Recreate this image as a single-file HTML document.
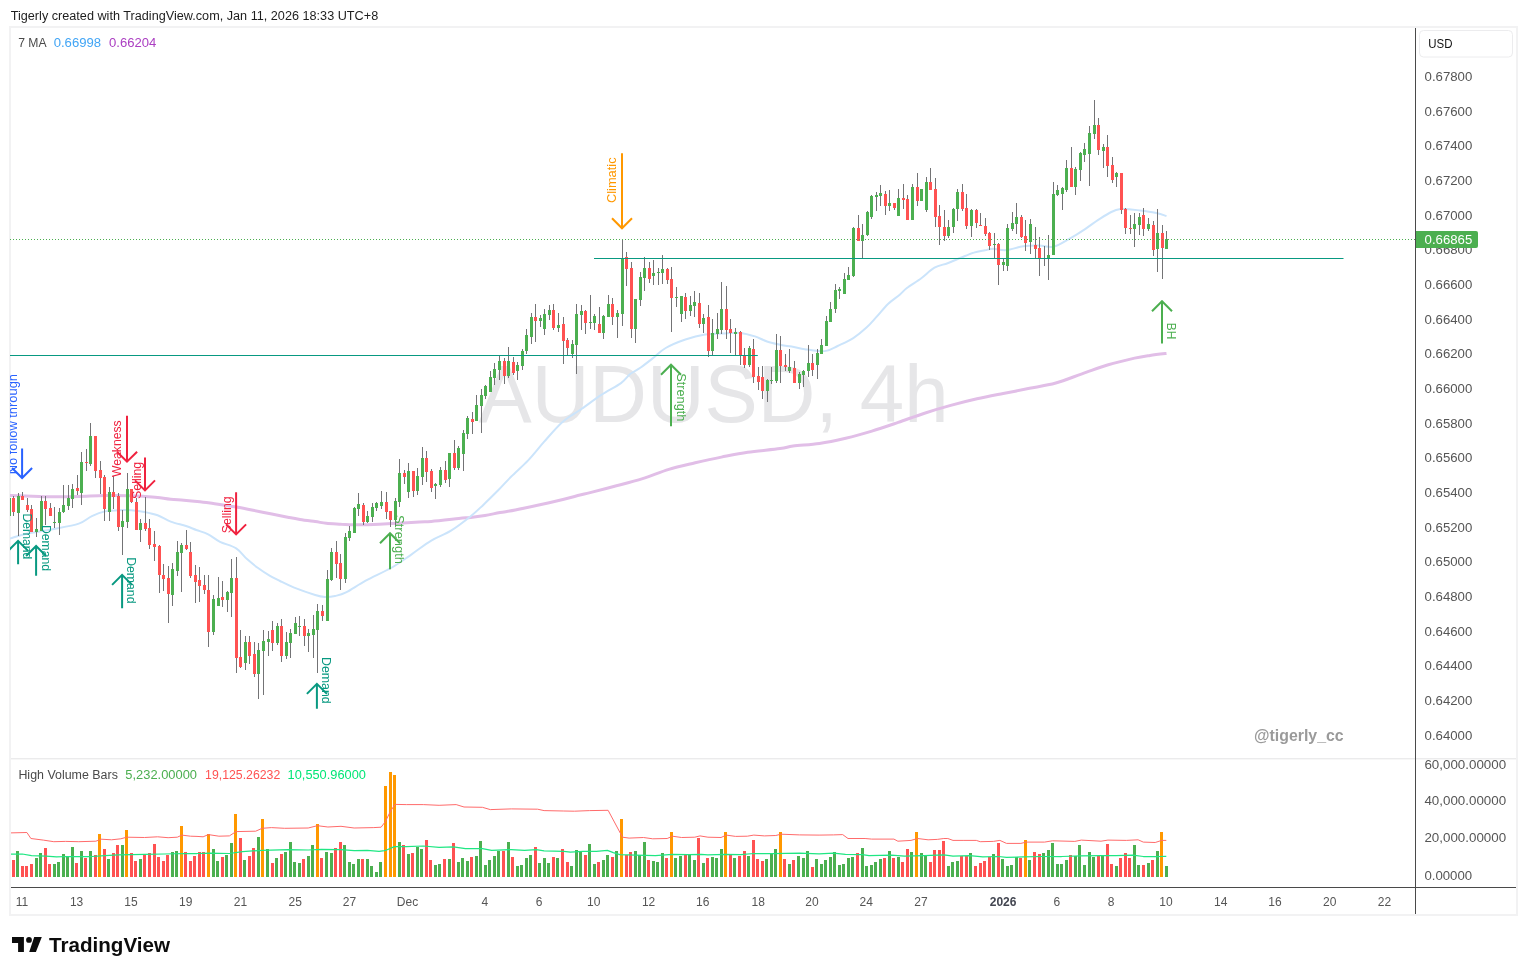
<!DOCTYPE html>
<html lang="en"><head><meta charset="utf-8"><title>AUDUSD 4h chart</title><style>html,body{margin:0;padding:0;background:#fff}svg{display:block}</style></head><body>
<svg width="1527" height="975" viewBox="0 0 1527 975" font-family='"Liberation Sans", sans-serif' font-size="12">
<rect width="1527" height="975" fill="#fff"/>
<rect x="10" y="27" width="1507" height="888" fill="none" stroke="#f2f2f3" stroke-width="2"/>
<defs><clipPath id="pm"><rect x="10" y="28" width="1405" height="730"/></clipPath><clipPath id="pv"><rect x="11" y="759" width="1404" height="128"/></clipPath></defs>
<text x="10.7" y="19.7" fill="#1e1e1e" textLength="367.5" lengthAdjust="spacingAndGlyphs">Tigerly created with TradingView.com, Jan 11, 2026 18:33 UTC+8</text>
<g clip-path="url(#pm)">
<text x="478.5" y="422.3" font-size="82" fill="#e6e6e8" textLength="470" lengthAdjust="spacingAndGlyphs">AUDUSD, 4h</text>
<path d="M4 495.3C5.1 495.3 4.6 495.2 10.5 495.4C16.4 495.6 32.4 496.3 39.4 496.5C46.4 496.7 45.9 496.8 52.5 496.8C59.1 496.8 70 496.6 78.8 496.4C87.5 496.2 96.2 495.7 105 495.6C113.8 495.5 124.7 495.7 131.3 495.8C137.9 495.9 140.1 496.1 144.5 496.4C148.9 496.7 153.2 497 157.6 497.5C162 498 166.3 498.9 170.7 499.3C175.1 499.8 178.9 499.8 183.8 500.2C188.7 500.6 195.6 501.3 200 501.8C204.4 502.3 204 502.1 210.1 503C216.2 503.9 227.7 505.5 236.4 507C245.2 508.5 253.9 510.5 262.6 512.2C271.4 514 282.7 516.3 288.9 517.5C295.1 518.7 295.6 518.8 300 519.5C304.4 520.2 310.8 521 315.2 521.6C319.6 522.2 321.9 522.8 326.3 523.3C330.7 523.8 337 524 341.4 524.3C345.8 524.5 348.1 524.7 352.5 524.8C356.9 524.9 361.1 524.9 367.7 524.7C374.3 524.5 383.3 524.1 391.9 523.6C400.5 523.1 412.8 522.4 419.4 522C426 521.6 424.7 522 431.3 521.4C437.9 520.8 452.2 519.2 458.8 518.5C465.4 517.8 466.3 517.9 470.7 517.4C475.1 516.9 480.1 516.2 485 515.4C489.9 514.6 494.9 513.5 500 512.6C505.1 511.7 509 511.2 515.3 510C521.6 508.8 529.5 507.1 537.6 505.3C545.7 503.5 556.8 500.9 563.9 499.2C571 497.5 575.6 496.1 580 495C584.4 493.9 584 494.1 590.1 492.6C596.2 491.1 607.6 488.1 616.4 485.8C625.1 483.5 633.9 481.3 642.6 478.6C651.4 475.9 660.1 472 668.9 469.4C677.7 466.8 686.5 464.9 695.2 462.8C704 460.8 712.6 458.9 721.4 457.1C730.1 455.4 737.9 453.7 747.7 452.3C757.5 450.9 772.4 449.7 780 448.6C787.6 447.6 786.5 446.9 793.1 446C799.7 445.1 810.6 444.7 819.4 443.4C828.2 442.1 837 440.2 845.7 438.2C854.5 436.1 863.1 433.7 871.9 431.1C880.6 428.5 889.4 425.4 898.2 422.4C907 419.4 915.8 416 924.5 413.2C933.2 410.4 942 407.8 950.7 405.4C959.5 403 968.2 400.8 977 398.8C985.8 396.8 994.5 395.2 1003.2 393.5C1012 391.8 1020.7 390.1 1029.5 388.3C1038.3 386.6 1047 385.4 1055.8 383C1064.5 380.6 1073.2 376.9 1082 373.8C1090.8 370.8 1099.5 367.3 1108.3 364.7C1117.1 362.1 1127.6 359.7 1134.6 358.1C1141.5 356.6 1144.7 356.2 1150 355.4C1155.3 354.6 1163.8 353.7 1166.5 353.4" fill="none" stroke="#e1bee7" stroke-width="3" stroke-linejoin="round"/>
<path d="M4 540.5C5.1 540.1 6.8 539.5 10.5 538.4C14.2 537.3 19.3 535.3 26.3 533.8C33.3 532.3 43.8 530.9 52.5 529.2C61.2 527.5 72.2 525.8 78.8 523.6C85.4 521.4 87.5 518.1 91.9 516.1C96.3 514.1 100.7 512.4 105 511.4C109.3 510.4 113.6 510.5 118 510.3C122.4 510.1 126.9 509.9 131.3 510.2C135.7 510.5 140.1 511 144.5 511.9C148.9 512.8 153.2 513.7 157.6 515.3C162 516.9 166 519.8 170.7 521.6C175.4 523.4 181.7 524.6 186 526C190.3 527.4 192.6 528.6 196.3 530C200 531.4 204.2 532.3 208.2 534.3C212.1 536.3 215.3 539.5 220 541.8C224.7 544.1 231.7 545.4 236.2 548.3C240.7 551.2 243.4 555.9 247 559.1C250.6 562.3 253.9 564.9 257.7 567.7C261.5 570.5 266.3 573.6 270 575.8C273.7 578 276 579 280 581C284 583 288.3 585.3 294.2 587.6C300.1 589.9 310.1 593.4 315.2 595C320.3 596.6 321.7 596.8 325 597C328.3 597.2 331.5 596.8 335 596C338.5 595.2 340.9 595 346 592.4C351.1 589.8 358.1 584.8 365.7 580.6C373.3 576.5 384.2 571.9 391.9 567.5C399.5 563.1 405 558.8 411.6 554.3C418.2 549.8 424.7 544.5 431.3 540.6C437.9 536.7 444.4 534.8 451 530.7C457.6 526.7 465.2 520.7 470.7 516.3C476.2 511.9 479.2 508.7 483.8 504.4C488.4 500.1 493.6 494.9 498.2 490.3C502.8 485.7 506.3 481.5 511.3 476.5C516.3 471.5 522.9 465.9 528.4 460.1C533.9 454.3 538.5 448.1 544.2 441.7C549.9 435.3 556.5 427.3 562.5 422C568.5 416.7 573.5 414.5 580 410C586.5 405.5 594.5 399.4 601.3 394.9C608.1 390.4 616.2 386.6 621 383.1C625.8 379.6 626.9 376.6 630.2 374C633.5 371.4 636.8 370.2 640.7 367.5C644.6 364.8 649.6 360.8 653.8 357.5C658 354.2 660.4 351 665.7 348C671 345 678.9 341.7 685.4 339.5C691.9 337.3 698.4 335.6 705 334.6C711.6 333.6 719.1 333.7 725 333.4C730.9 333.1 735.5 332.4 740.5 332.9C745.5 333.4 750.6 335 755 336.4C759.4 337.8 762.7 340.1 767 341.5C771.3 342.9 776.9 344.1 781 345C785.1 345.9 787.6 345.9 791.6 346.6C795.6 347.3 800.4 348.5 804.8 349.2C809.2 349.9 814.2 350.8 817.9 351C821.6 351.2 823.8 351.4 827.1 350.6C830.4 349.8 833.2 348.1 837.6 346C842 343.9 848.5 341.2 853.3 338.1C858.1 335 862.5 331.3 866.5 327.6C870.5 323.9 873.6 320 877.2 316.1C880.8 312.2 884.2 307.6 888 304C891.8 300.4 896.9 297.2 900 294.5C903.1 291.8 903.4 290.7 906.9 288C910.4 285.3 916.7 281.6 921.3 278.2C925.9 274.8 930.1 270.2 934.5 267.7C938.9 265.2 943.2 264.8 947.6 263.2C952 261.6 956.3 259.6 960.7 257.8C965.1 256 969.8 253.8 973.8 252.6C977.8 251.3 981.8 250.9 985 250.3C988.2 249.7 989.6 248.8 993.1 248.8C996.6 248.8 1001.3 250.5 1006.3 250.1C1011.3 249.7 1017.8 247 1023.3 246.2C1028.8 245.4 1034.1 245.4 1039.1 245.5C1044.1 245.6 1048.5 247.9 1053.5 246.8C1058.5 245.7 1064 241.9 1069.3 238.9C1074.6 235.9 1080.3 232.3 1085.1 229.1C1089.9 225.9 1093.8 222.8 1098.2 219.9C1102.6 217.1 1107.6 213.8 1111.3 212C1115 210.2 1117.2 209.5 1120.5 209.1C1123.8 208.7 1127.1 209.1 1131 209.4C1134.9 209.7 1139.7 210.3 1144.1 211C1148.5 211.7 1153.6 212.5 1157.3 213.3C1161 214.1 1165 215.6 1166.5 216" fill="none" stroke="#cbe4fb" stroke-width="2" stroke-linejoin="round"/>
<path d="M13.5 496V516M18.5 493V536M22.5 492V500M27.5 498V512M31.5 505V532M36.5 518V537M41.5 496V531M45.5 496V525M50.5 503V516M54.5 507V528M59.5 508V535M63.5 485V513M68.5 485V510M72.5 484V508M77.5 475V495M81.5 452V505M86.5 449V471M90.5 423V466M95.5 436V478M100.5 461V494M104.5 475V521M109.5 487V521M113.5 476V509M118.5 493V531M122.5 510V555M127.5 473V528M131.5 489V503M136.5 498V530M140.5 519V542M145.5 497V531M149.5 519V549M154.5 531V561M159.5 545V593M163.5 564V591M168.5 566V623M172.5 563V606M177.5 541V576M181.5 543V592M186.5 530V550M190.5 542V578M195.5 565V603M199.5 567V602M204.5 575V594M208.5 575V647M213.5 595V635M218.5 577V606M222.5 581V607M227.5 591V612M231.5 559V617M236.5 557V673M240.5 630V668M245.5 636V670M249.5 636V664M254.5 642V677M258.5 643V699M263.5 630V695M268.5 631V656M272.5 621V651M277.5 623V645M281.5 619V662M286.5 632V659M290.5 629V658M295.5 617V634M299.5 616V636M304.5 619V646M308.5 629V652M313.5 615V658M317.5 604V673M322.5 605V621M327.5 570V621M331.5 548V581M336.5 541V578M340.5 554V590M345.5 533V583M349.5 526V541M354.5 507V533M358.5 493V516M363.5 503V525M367.5 511V523M372.5 503V522M376.5 502V511M381.5 491V509M386.5 492V519M390.5 511V527M395.5 498V526M399.5 459V507M404.5 470V484M408.5 463V498M413.5 471V497M417.5 468V495M422.5 447V485M426.5 451V482M431.5 469V492M435.5 483V499M440.5 467V487M445.5 461V483M449.5 453V487M454.5 440V470M458.5 446V470M463.5 430V471M467.5 416V439M472.5 412V434M476.5 395V421M481.5 389V433M485.5 385V399M490.5 371V392M494.5 363V385M499.5 355V380M504.5 358V384M508.5 347V378M513.5 357V375M517.5 362V380M522.5 349V370M526.5 329V354M531.5 313V344M535.5 304V342M540.5 315V327M544.5 309V335M549.5 305V320M553.5 304V330M558.5 313V332M563.5 317V364M567.5 338V355M572.5 340V358M576.5 304V374M581.5 305V330M585.5 310V334M590.5 295V329M594.5 314V330M599.5 307V333M603.5 315V339M608.5 295V317M612.5 298V325M617.5 310V338M622.5 239V326M626.5 252V286M631.5 262V338M635.5 299V343M640.5 272V306M644.5 257V291M649.5 262V283M653.5 260V285M658.5 268V285M662.5 255V284M667.5 268V284M671.5 267V332M676.5 287V307M681.5 296V322M685.5 293V319M690.5 296V316M694.5 291V317M699.5 293V328M703.5 314V333M708.5 305V357M712.5 319V355M717.5 313V339M721.5 282V334M726.5 286V339M730.5 319V353M735.5 328V355M740.5 331V365M744.5 348V368M749.5 346V367M753.5 339V383M758.5 367V390M762.5 366V399M767.5 379V402M771.5 367V384M776.5 334V383M780.5 336V383M785.5 354V371M789.5 349V373M794.5 361V383M799.5 372V389M803.5 370V387M808.5 345V377M812.5 354V376M817.5 349V379M821.5 339V354M826.5 316V346M830.5 302V322M835.5 284V313M839.5 287V299M844.5 273V294M848.5 267V280M853.5 227V277M858.5 215V241M862.5 224V258M867.5 211V236M871.5 195V219M876.5 192V211M880.5 185V206M885.5 191V215M889.5 190V211M894.5 203V210M898.5 189V216M903.5 184V209M907.5 195V220M912.5 184V220M917.5 173V206M921.5 189V201M926.5 177V212M930.5 168V190M935.5 178V227M939.5 205V245M944.5 210V241M948.5 220V238M953.5 208V233M957.5 189V221M962.5 184V211M966.5 194V229M971.5 209V237M976.5 209V228M980.5 213V226M985.5 218V236M989.5 232V250M994.5 233V258M998.5 243V285M1003.5 259V271M1007.5 224V271M1012.5 212V231M1016.5 203V234M1021.5 215V238M1025.5 220V251M1030.5 219V254M1035.5 227V258M1039.5 237V276M1044.5 246V266M1048.5 235V280M1053.5 182V255M1057.5 185V196M1062.5 187V210M1066.5 160V192M1071.5 147V187M1075.5 167V195M1080.5 152V181M1084.5 143V162M1089.5 126V186M1094.5 100V139M1098.5 118V155M1103.5 144V168M1107.5 135V177M1112.5 157V183M1116.5 172V187M1121.5 173V214M1125.5 208V234M1130.5 215V234M1134.5 213V247M1139.5 213V235M1143.5 208V236M1148.5 218V231M1153.5 221V256M1157.5 209V272M1162.5 225V279M1166.5 231V249" stroke="#737375" stroke-width="1" fill="none" shape-rendering="crispEdges"/>
<path d="M17 496h3v17h-3zM35 529h3v3h-3zM40 501h3v30h-3zM53 522h3v1h-3zM58 512h3v11h-3zM62 505h3v7h-3zM67 498h3v8h-3zM71 489h3v10h-3zM80 462h3v31h-3zM89 436h3v28h-3zM108 492h3v20h-3zM121 521h3v6h-3zM126 489h3v33h-3zM139 523h3v7h-3zM171 569h3v26h-3zM176 552h3v19h-3zM180 545h3v8h-3zM212 599h3v33h-3zM217 598h3v8h-3zM226 592h3v8h-3zM230 578h3v15h-3zM244 642h3v21h-3zM257 650h3v24h-3zM262 641h3v10h-3zM267 639h3v3h-3zM276 626h3v17h-3zM285 642h3v14h-3zM289 633h3v10h-3zM294 623h3v11h-3zM298 626h3v1h-3zM307 633h3v3h-3zM312 629h3v6h-3zM316 611h3v19h-3zM326 579h3v42h-3zM330 552h3v28h-3zM344 537h3v42h-3zM348 531h3v7h-3zM353 508h3v25h-3zM357 504h3v5h-3zM366 516h3v6h-3zM371 507h3v10h-3zM375 503h3v5h-3zM380 502h3v4h-3zM394 501h3v19h-3zM398 473h3v29h-3zM407 471h3v21h-3zM416 476h3v15h-3zM421 458h3v19h-3zM434 484h3v2h-3zM439 470h3v15h-3zM448 453h3v26h-3zM457 448h3v20h-3zM462 433h3v21h-3zM466 418h3v16h-3zM475 405h3v16h-3zM480 395h3v11h-3zM484 386h3v10h-3zM489 377h3v15h-3zM493 369h3v9h-3zM498 361h3v9h-3zM507 361h3v15h-3zM516 365h3v6h-3zM521 351h3v15h-3zM525 335h3v16h-3zM530 317h3v20h-3zM539 318h3v3h-3zM543 314h3v15h-3zM548 310h3v5h-3zM557 325h3v3h-3zM571 344h3v10h-3zM575 314h3v31h-3zM580 311h3v4h-3zM589 322h3v1h-3zM593 316h3v7h-3zM602 316h3v17h-3zM607 304h3v13h-3zM616 313h3v4h-3zM621 258h3v56h-3zM634 299h3v30h-3zM639 277h3v23h-3zM643 268h3v10h-3zM652 273h3v3h-3zM657 272h3v1h-3zM661 269h3v4h-3zM675 297h3v1h-3zM680 296h3v18h-3zM689 305h3v6h-3zM693 302h3v4h-3zM702 318h3v6h-3zM711 333h3v18h-3zM716 329h3v5h-3zM720 309h3v21h-3zM734 332h3v2h-3zM748 348h3v17h-3zM766 380h3v11h-3zM770 380h3v1h-3zM775 350h3v31h-3zM788 367h3v4h-3zM798 374h3v9h-3zM802 371h3v4h-3zM807 363h3v8h-3zM816 353h3v12h-3zM820 345h3v9h-3zM825 321h3v25h-3zM829 309h3v13h-3zM834 290h3v19h-3zM838 289h3v2h-3zM843 279h3v15h-3zM847 275h3v5h-3zM852 228h3v48h-3zM861 235h3v6h-3zM866 212h3v23h-3zM870 196h3v21h-3zM875 195h3v2h-3zM879 193h3v3h-3zM888 203h3v3h-3zM897 198h3v18h-3zM911 187h3v33h-3zM920 189h3v12h-3zM925 182h3v28h-3zM947 227h3v9h-3zM952 209h3v18h-3zM956 192h3v17h-3zM970 210h3v16h-3zM993 244h3v1h-3zM1002 262h3v3h-3zM1006 228h3v38h-3zM1011 223h3v6h-3zM1015 217h3v7h-3zM1029 224h3v18h-3zM1043 258h3v1h-3zM1047 255h3v3h-3zM1052 194h3v61h-3zM1056 190h3v5h-3zM1061 188h3v6h-3zM1065 168h3v22h-3zM1074 169h3v18h-3zM1079 153h3v17h-3zM1083 149h3v6h-3zM1088 133h3v21h-3zM1093 125h3v9h-3zM1102 147h3v4h-3zM1115 173h3v4h-3zM1133 224h3v5h-3zM1138 217h3v8h-3zM1147 224h3v5h-3zM1156 233h3v16h-3zM1165 239h3v10h-3zM8 498h3v18h-3z" fill="#4caf50" shape-rendering="crispEdges"/>
<path d="M12 498h3v14h-3zM21 496h3v4h-3zM26 505h3v5h-3zM30 509h3v23h-3zM44 501h3v8h-3zM49 508h3v8h-3zM76 488h3v3h-3zM85 462h3v1h-3zM94 436h3v35h-3zM99 470h3v8h-3zM103 477h3v32h-3zM112 492h3v5h-3zM117 496h3v31h-3zM130 489h3v13h-3zM135 502h3v28h-3zM144 523h3v6h-3zM148 528h3v17h-3zM153 544h3v3h-3zM158 546h3v29h-3zM162 575h3v4h-3zM167 578h3v16h-3zM185 545h3v4h-3zM189 552h3v24h-3zM194 575h3v7h-3zM198 580h3v6h-3zM203 585h3v5h-3zM207 590h3v42h-3zM221 597h3v3h-3zM235 578h3v80h-3zM239 657h3v10h-3zM248 642h3v14h-3zM253 654h3v20h-3zM271 630h3v13h-3zM280 626h3v30h-3zM303 626h3v10h-3zM321 611h3v5h-3zM335 552h3v12h-3zM339 563h3v16h-3zM362 505h3v17h-3zM385 502h3v10h-3zM389 511h3v9h-3zM403 473h3v4h-3zM412 471h3v20h-3zM425 458h3v14h-3zM430 471h3v17h-3zM444 470h3v10h-3zM453 453h3v15h-3zM471 419h3v3h-3zM503 361h3v15h-3zM512 362h3v11h-3zM534 317h3v4h-3zM552 310h3v18h-3zM562 324h3v17h-3zM566 340h3v8h-3zM584 311h3v12h-3zM598 324h3v9h-3zM611 304h3v13h-3zM625 257h3v12h-3zM630 268h3v61h-3zM648 268h3v11h-3zM666 269h3v11h-3zM670 279h3v19h-3zM684 297h3v14h-3zM698 303h3v21h-3zM707 317h3v34h-3zM725 309h3v21h-3zM729 329h3v4h-3zM739 332h3v23h-3zM743 356h3v9h-3zM752 349h3v28h-3zM757 376h3v6h-3zM761 377h3v14h-3zM779 350h3v16h-3zM784 365h3v2h-3zM793 368h3v15h-3zM811 363h3v7h-3zM857 228h3v13h-3zM884 194h3v12h-3zM893 203h3v5h-3zM902 198h3v2h-3zM906 199h3v21h-3zM916 187h3v14h-3zM929 182h3v8h-3zM934 189h3v28h-3zM938 216h3v11h-3zM943 227h3v9h-3zM961 192h3v17h-3zM965 208h3v18h-3zM975 210h3v13h-3zM979 225h3v1h-3zM984 226h3v8h-3zM988 233h3v13h-3zM997 244h3v21h-3zM1020 217h3v20h-3zM1024 236h3v7h-3zM1034 245h3v4h-3zM1038 248h3v10h-3zM1070 168h3v19h-3zM1097 125h3v25h-3zM1106 147h3v19h-3zM1111 165h3v15h-3zM1120 173h3v37h-3zM1124 209h3v19h-3zM1129 228h3v1h-3zM1142 215h3v14h-3zM1152 225h3v25h-3zM1161 233h3v15h-3z" fill="#ff5252" shape-rendering="crispEdges"/>
<line x1="10" y1="239.5" x2="1415" y2="239.5" stroke="#4caf50" stroke-width="1" stroke-dasharray="1 2" shape-rendering="crispEdges"/>
<rect x="10" y="355" width="747.8" height="1" fill="#089981"/>
<rect x="594" y="258" width="749.5" height="1" fill="#089981"/>
<path d="M22.1 448.4V478M12.1 468L22.1 478L32.1 468" fill="none" stroke="#2962ff" stroke-width="2" stroke-linecap="butt" stroke-linejoin="miter"/>
<text transform="translate(17 474.3) rotate(-90)" font-size="12.5" fill="#2962ff" textLength="100.3" lengthAdjust="spacingAndGlyphs">No follow through</text>
<path d="M127 415.8V461.7M117 451.7L127 461.7L137.1 451.7" fill="none" stroke="#f0223f" stroke-width="2" stroke-linecap="butt" stroke-linejoin="miter"/>
<text transform="translate(121.3 477) rotate(-90)" font-size="12.5" fill="#f0223f" textLength="56.7" lengthAdjust="spacingAndGlyphs">Weakness</text>
<path d="M145 457.4V490.4M135 480.4L145 490.4L155 480.4" fill="none" stroke="#f0223f" stroke-width="2" stroke-linecap="butt" stroke-linejoin="miter"/>
<text transform="translate(141.1 498.9) rotate(-90)" font-size="12.5" fill="#f0223f" textLength="37" lengthAdjust="spacingAndGlyphs">Selling</text>
<path d="M236.1 492.3V534.4M226.1 524.4L236.1 534.4L246.1 524.4" fill="none" stroke="#f0223f" stroke-width="2" stroke-linecap="butt" stroke-linejoin="miter"/>
<text transform="translate(230.8 533.3) rotate(-90)" font-size="12.5" fill="#f0223f" textLength="37" lengthAdjust="spacingAndGlyphs">Selling</text>
<path d="M622 153.3V228.3M612 218.3L622 228.3L632 218.3" fill="none" stroke="#ff9800" stroke-width="2" stroke-linecap="butt" stroke-linejoin="miter"/>
<text transform="translate(616.4 203.1) rotate(-90)" font-size="12.5" fill="#ff9800" textLength="45.7" lengthAdjust="spacingAndGlyphs">Climatic</text>
<path d="M18.1 540.9V564.3M8.1 550.9L18.1 540.9L28.1 550.9" fill="none" stroke="#089981" stroke-width="2" stroke-linecap="butt" stroke-linejoin="miter"/>
<text transform="translate(22.6 513.6) rotate(90)" font-size="12.5" fill="#089981" textLength="45.6" lengthAdjust="spacingAndGlyphs">Demand</text>
<path d="M36.1 546V575.8M26.1 556L36.1 546L46.1 556" fill="none" stroke="#089981" stroke-width="2" stroke-linecap="butt" stroke-linejoin="miter"/>
<text transform="translate(41.7 524.9) rotate(90)" font-size="12.5" fill="#089981" textLength="46.1" lengthAdjust="spacingAndGlyphs">Demand</text>
<path d="M122.1 574.9V608.3M112.1 584.9L122.1 574.9L132.1 584.9" fill="none" stroke="#089981" stroke-width="2" stroke-linecap="butt" stroke-linejoin="miter"/>
<text transform="translate(127.2 557.2) rotate(90)" font-size="12.5" fill="#089981" textLength="46.3" lengthAdjust="spacingAndGlyphs">Demand</text>
<path d="M316.9 683.9V708.7M306.9 693.9L316.9 683.9L326.9 693.9" fill="none" stroke="#089981" stroke-width="2" stroke-linecap="butt" stroke-linejoin="miter"/>
<text transform="translate(322.1 657) rotate(90)" font-size="12.5" fill="#089981" textLength="46.6" lengthAdjust="spacingAndGlyphs">Demand</text>
<path d="M390 533.2V569.2M380 543.2L390 533.2L400 543.2" fill="none" stroke="#4caf50" stroke-width="2" stroke-linecap="butt" stroke-linejoin="miter"/>
<text transform="translate(395.4 515.1) rotate(90)" font-size="12.5" fill="#4caf50" textLength="48.9" lengthAdjust="spacingAndGlyphs">Strength</text>
<path d="M671 364.7V426.2M661 374.7L671 364.7L681 374.7" fill="none" stroke="#4caf50" stroke-width="2" stroke-linecap="butt" stroke-linejoin="miter"/>
<text transform="translate(676.7 373.2) rotate(90)" font-size="12.5" fill="#4caf50" textLength="48.2" lengthAdjust="spacingAndGlyphs">Strength</text>
<path d="M1162 301.2V343.5M1152 311.2L1162 301.2L1172 311.2" fill="none" stroke="#4caf50" stroke-width="2" stroke-linecap="butt" stroke-linejoin="miter"/>
<text transform="translate(1167 322.7) rotate(90)" font-size="12.5" fill="#4caf50" textLength="16.6" lengthAdjust="spacingAndGlyphs">BH</text>
<text x="1254" y="740.9" font-size="16.5" font-weight="bold" fill="#9a9a9a" textLength="89.7" lengthAdjust="spacingAndGlyphs">@tigerly_cc</text>
</g>
<text y="47" font-size="12.5"><tspan x="18.2" fill="#4a4a4a" textLength="28.4" lengthAdjust="spacingAndGlyphs">7 MA</tspan><tspan x="53.7" fill="#42a5f5" textLength="47.4" lengthAdjust="spacingAndGlyphs">0.66998</tspan><tspan x="109" fill="#ab3ec2" textLength="47.3" lengthAdjust="spacingAndGlyphs">0.66204</tspan></text>
<rect x="11" y="758" width="1505" height="1.4" fill="#ebebec"/>
<g clip-path="url(#pv)">
<path d="M16 851h3V877h-3zM35 858h3V877h-3zM39 853h3V877h-3zM53 864h3V877h-3zM57 862h3V877h-3zM62 854h3V877h-3zM66 856h3V877h-3zM71 847h3V877h-3zM80 851h3V877h-3zM89 851h3V877h-3zM107 859h3V877h-3zM121 845h3V877h-3zM139 859h3V877h-3zM171 852h3V877h-3zM175 851h3V877h-3zM212 849h3V877h-3zM216 861h3V877h-3zM225 855h3V877h-3zM230 843h3V877h-3zM243 860h3V877h-3zM257 837h3V877h-3zM266 849h3V877h-3zM275 858h3V877h-3zM284 852h3V877h-3zM289 842h3V877h-3zM293 862h3V877h-3zM298 863h3V877h-3zM307 856h3V877h-3zM311 845h3V877h-3zM325 852h3V877h-3zM330 853h3V877h-3zM343 845h3V877h-3zM348 862h3V877h-3zM352 864h3V877h-3zM357 859h3V877h-3zM366 859h3V877h-3zM370 866h3V877h-3zM375 872h3V877h-3zM379 862h3V877h-3zM398 842h3V877h-3zM407 854h3V877h-3zM416 847h3V877h-3zM420 849h3V877h-3zM434 865h3V877h-3zM438 864h3V877h-3zM448 859h3V877h-3zM457 862h3V877h-3zM461 858h3V877h-3zM466 861h3V877h-3zM475 856h3V877h-3zM479 841h3V877h-3zM484 865h3V877h-3zM488 860h3V877h-3zM493 856h3V877h-3zM497 851h3V877h-3zM507 842h3V877h-3zM516 866h3V877h-3zM520 865h3V877h-3zM525 858h3V877h-3zM529 855h3V877h-3zM538 863h3V877h-3zM543 858h3V877h-3zM547 863h3V877h-3zM556 858h3V877h-3zM570 866h3V877h-3zM575 850h3V877h-3zM579 852h3V877h-3zM588 844h3V877h-3zM593 864h3V877h-3zM602 860h3V877h-3zM606 855h3V877h-3zM615 851h3V877h-3zM634 851h3V877h-3zM638 855h3V877h-3zM643 842h3V877h-3zM652 861h3V877h-3zM656 862h3V877h-3zM661 853h3V877h-3zM674 858h3V877h-3zM679 856h3V877h-3zM688 854h3V877h-3zM693 860h3V877h-3zM702 863h3V877h-3zM711 857h3V877h-3zM715 858h3V877h-3zM720 849h3V877h-3zM733 858h3V877h-3zM747 856h3V877h-3zM765 859h3V877h-3zM770 854h3V877h-3zM774 849h3V877h-3zM788 864h3V877h-3zM797 856h3V877h-3zM802 858h3V877h-3zM806 851h3V877h-3zM815 859h3V877h-3zM820 864h3V877h-3zM824 860h3V877h-3zM829 857h3V877h-3zM833 852h3V877h-3zM838 865h3V877h-3zM842 864h3V877h-3zM847 858h3V877h-3zM851 857h3V877h-3zM861 848h3V877h-3zM865 866h3V877h-3zM870 865h3V877h-3zM874 862h3V877h-3zM879 859h3V877h-3zM888 851h3V877h-3zM897 857h3V877h-3zM910 852h3V877h-3zM920 853h3V877h-3zM924 856h3V877h-3zM947 866h3V877h-3zM951 862h3V877h-3zM956 861h3V877h-3zM969 853h3V877h-3zM992 854h3V877h-3zM1001 859h3V877h-3zM1006 866h3V877h-3zM1010 865h3V877h-3zM1015 857h3V877h-3zM1028 860h3V877h-3zM1042 853h3V877h-3zM1047 850h3V877h-3zM1051 843h3V877h-3zM1056 864h3V877h-3zM1060 864h3V877h-3zM1065 860h3V877h-3zM1074 856h3V877h-3zM1078 845h3V877h-3zM1083 865h3V877h-3zM1088 852h3V877h-3zM1092 857h3V877h-3zM1101 856h3V877h-3zM1115 866h3V877h-3zM1133 845h3V877h-3zM1137 865h3V877h-3zM1147 863h3V877h-3zM1156 851h3V877h-3zM1165 866h3V877h-3z" fill="#4caf50" shape-rendering="crispEdges"/>
<path d="M12 860h3V877h-3zM21 866h3V877h-3zM25 866h3V877h-3zM30 864h3V877h-3zM44 848h3V877h-3zM48 864h3V877h-3zM75 863h3V877h-3zM84 858h3V877h-3zM94 855h3V877h-3zM103 849h3V877h-3zM112 853h3V877h-3zM116 845h3V877h-3zM130 853h3V877h-3zM134 861h3V877h-3zM143 855h3V877h-3zM148 853h3V877h-3zM153 844h3V877h-3zM157 857h3V877h-3zM162 861h3V877h-3zM166 855h3V877h-3zM184 852h3V877h-3zM189 861h3V877h-3zM193 856h3V877h-3zM198 852h3V877h-3zM202 852h3V877h-3zM221 857h3V877h-3zM239 838h3V877h-3zM248 856h3V877h-3zM252 848h3V877h-3zM271 863h3V877h-3zM280 854h3V877h-3zM302 859h3V877h-3zM320 858h3V877h-3zM334 848h3V877h-3zM339 842h3V877h-3zM361 859h3V877h-3zM402 845h3V877h-3zM411 853h3V877h-3zM425 840h3V877h-3zM429 860h3V877h-3zM443 859h3V877h-3zM452 843h3V877h-3zM470 857h3V877h-3zM502 851h3V877h-3zM511 857h3V877h-3zM534 847h3V877h-3zM552 857h3V877h-3zM561 849h3V877h-3zM566 862h3V877h-3zM584 855h3V877h-3zM597 862h3V877h-3zM611 857h3V877h-3zM625 855h3V877h-3zM629 852h3V877h-3zM647 860h3V877h-3zM665 858h3V877h-3zM684 854h3V877h-3zM697 838h3V877h-3zM706 858h3V877h-3zM729 855h3V877h-3zM738 856h3V877h-3zM743 851h3V877h-3zM752 840h3V877h-3zM756 859h3V877h-3zM761 861h3V877h-3zM783 859h3V877h-3zM792 860h3V877h-3zM811 867h3V877h-3zM856 853h3V877h-3zM883 858h3V877h-3zM892 858h3V877h-3zM901 862h3V877h-3zM906 849h3V877h-3zM929 862h3V877h-3zM933 850h3V877h-3zM938 850h3V877h-3zM942 841h3V877h-3zM960 856h3V877h-3zM965 856h3V877h-3zM974 866h3V877h-3zM979 863h3V877h-3zM983 861h3V877h-3zM988 857h3V877h-3zM997 843h3V877h-3zM1019 858h3V877h-3zM1033 852h3V877h-3zM1038 854h3V877h-3zM1069 855h3V877h-3zM1097 856h3V877h-3zM1106 844h3V877h-3zM1110 864h3V877h-3zM1119 858h3V877h-3zM1124 853h3V877h-3zM1128 858h3V877h-3zM1142 865h3V877h-3zM1151 860h3V877h-3z" fill="#ff5252" shape-rendering="crispEdges"/>
<path d="M98 834h3V877h-3zM125 830h3V877h-3zM180 826h3V877h-3zM207 834h3V877h-3zM234 814h3V877h-3zM261 819h3V877h-3zM316 824h3V877h-3zM384 786h3V877h-3zM389 772h3V877h-3zM393 775h3V877h-3zM620 819h3V877h-3zM670 832h3V877h-3zM724 832h3V877h-3zM779 832h3V877h-3zM915 832h3V877h-3zM1024 840h3V877h-3zM1160 832h3V877h-3z" fill="#ff9800" shape-rendering="crispEdges"/>
<path d="M10.5 832.9L26.9 832.5L30.9 838.5L43.3 840.1L53.8 841.7L65.7 841.4L78.8 841.7L95.9 841.2L101.1 839.2L111.6 839.8L120.8 838.8L126.7 837.2L144.5 837.5L157.6 836.8L168.1 837.7L177.3 837.2L181.9 835.1L190.4 836.2L197 836.4L203.1 836.8L208.4 834.6L218.9 836.2L229.4 835.9L236 831.6L255.7 831.2L262.2 828.3L271.4 827.6L284.6 828.3L308.2 828L317.4 825.7L327.9 827L341 826.3L354.1 828L373.8 827.6L381.1 827.2L385.3 821.7L390.5 811.2L395.1 804.4L406.3 804.6L423.3 804.6L439.1 805.3L456.2 804.6L464 807L482.4 807.3L490.3 809.6L511.3 808.9L537.6 809.2L544.1 810.6L563.8 811L574.4 811.2L589.7 810.6L608.1 810.3L622.5 837.2L629.1 838.1L643.5 837.5L652.7 838.8L667.2 838.5L672.4 836.2L681.6 837.5L694.8 837.2L700 835.9L707.9 837.2L721 837.5L726.3 835.1L735.5 836.4L747.3 836.2L753.8 835.1L764.4 835.9L775.8 835.5L781 834.2L799.4 834.9L819.1 835.1L833.5 834.9L842.7 834.6L848 838.5L865.1 838.5L871.6 839.1L893.9 839.1L897.9 841.2L911 840.4L917.6 838.5L928.1 839.8L937.3 839.4L943.8 838.5L947.8 838.5L953 840.4L963.1 840.4L976.3 840.4L980.2 841.7L993.3 841.4L999.9 840.4L1006.5 843.4L1020.9 843.4L1026.2 842.1L1044.6 842.1L1052.4 840.8L1074.8 841.4L1081.3 840.1L1101 841.2L1107.9 840.1L1126.3 840.4L1138.1 839.8L1143.3 842.1L1155.2 842.5L1161.7 840.4L1166.3 840.4" fill="none" stroke="#ff6b6b" stroke-width="1" stroke-linejoin="round"/>
<path d="M10.5 854L22.3 854L31.5 855.6L46 856.1L56.5 856.9L68.3 856.5L91.9 856.5L105.1 855.6L118.2 854.8L131.3 854.6L144.5 854.3L164.1 854L183.8 853.5L197 853.5L209.7 853.2L229.4 853.5L242.5 851.7L262.2 850.3L288.5 849.6L308.2 850L321.3 849.3L341 849.6L354.1 850.6L367.3 850.3L379.1 851.3L384.4 850.6L386.6 850L394.4 846.7L406.3 846.7L423.3 846L439.1 847.3L453.5 846.9L465.4 848.6L482.4 848.6L491.6 850.3L511.3 849.6L524.5 850.3L536.3 849.6L544.1 850.9L563.8 851.3L570.4 852.2L583.1 851.3L596.3 851.3L607.4 850.3L613.3 852.6L619.9 854.6L635.7 855.2L655.4 855.6L672.4 854.3L688.2 854.6L701.3 854.3L707.9 854.8L725 854.3L740.7 854.6L753.8 853.5L773.1 853.5L799.4 853.2L819.1 853.9L833.5 853.2L845.4 854.3L862.4 854.6L869 855.6L891.3 855.2L904.5 856.1L924.1 855.6L943.8 854.8L953 856.1L969.7 855.6L982.8 856.9L998.6 856.5L1006.5 857.4L1023.5 856.9L1041.9 856.5L1061.6 856.5L1081.3 855.9L1101 855.6L1115.8 855.6L1132.8 855.2L1143.3 856.5L1159.1 856.5L1166.3 856.3" fill="none" stroke="#1fe783" stroke-width="1.25" stroke-linejoin="round"/>
</g>
<text y="779" font-size="12.5"><tspan x="18.4" fill="#4a4a4a" textLength="99.5" lengthAdjust="spacingAndGlyphs">High Volume Bars</tspan><tspan x="125.3" fill="#4caf50" textLength="71.7" lengthAdjust="spacingAndGlyphs">5,232.00000</tspan><tspan x="205.1" fill="#ff5252" textLength="75.2" lengthAdjust="spacingAndGlyphs">19,125.26232</tspan><tspan x="287.6" fill="#00e676" textLength="78.3" lengthAdjust="spacingAndGlyphs">10,550.96000</tspan></text>
<rect x="1415" y="28" width="1" height="886" fill="#4a4a4a"/>
<rect x="11" y="887" width="1505" height="1" fill="#4a4a4a"/>
<text x="1424.6" y="81.1" fill="#555" textLength="47.7" lengthAdjust="spacingAndGlyphs">0.67800</text>
<text x="1424.6" y="115.7" fill="#555" textLength="47.7" lengthAdjust="spacingAndGlyphs">0.67600</text>
<text x="1424.6" y="150.4" fill="#555" textLength="47.7" lengthAdjust="spacingAndGlyphs">0.67400</text>
<text x="1424.6" y="185" fill="#555" textLength="47.7" lengthAdjust="spacingAndGlyphs">0.67200</text>
<text x="1424.6" y="219.7" fill="#555" textLength="47.7" lengthAdjust="spacingAndGlyphs">0.67000</text>
<text x="1424.6" y="254.4" fill="#555" textLength="47.7" lengthAdjust="spacingAndGlyphs">0.66800</text>
<text x="1424.6" y="289" fill="#555" textLength="47.7" lengthAdjust="spacingAndGlyphs">0.66600</text>
<text x="1424.6" y="323.7" fill="#555" textLength="47.7" lengthAdjust="spacingAndGlyphs">0.66400</text>
<text x="1424.6" y="358.3" fill="#555" textLength="47.7" lengthAdjust="spacingAndGlyphs">0.66200</text>
<text x="1424.6" y="393" fill="#555" textLength="47.7" lengthAdjust="spacingAndGlyphs">0.66000</text>
<text x="1424.6" y="427.7" fill="#555" textLength="47.7" lengthAdjust="spacingAndGlyphs">0.65800</text>
<text x="1424.6" y="462.3" fill="#555" textLength="47.7" lengthAdjust="spacingAndGlyphs">0.65600</text>
<text x="1424.6" y="497" fill="#555" textLength="47.7" lengthAdjust="spacingAndGlyphs">0.65400</text>
<text x="1424.6" y="531.6" fill="#555" textLength="47.7" lengthAdjust="spacingAndGlyphs">0.65200</text>
<text x="1424.6" y="566.3" fill="#555" textLength="47.7" lengthAdjust="spacingAndGlyphs">0.65000</text>
<text x="1424.6" y="601" fill="#555" textLength="47.7" lengthAdjust="spacingAndGlyphs">0.64800</text>
<text x="1424.6" y="635.6" fill="#555" textLength="47.7" lengthAdjust="spacingAndGlyphs">0.64600</text>
<text x="1424.6" y="670.3" fill="#555" textLength="47.7" lengthAdjust="spacingAndGlyphs">0.64400</text>
<text x="1424.6" y="704.9" fill="#555" textLength="47.7" lengthAdjust="spacingAndGlyphs">0.64200</text>
<text x="1424.6" y="739.6" fill="#555" textLength="47.7" lengthAdjust="spacingAndGlyphs">0.64000</text>
<path d="M1416 231h60a2 2 0 0 1 2 2v13a2 2 0 0 1 -2 2h-60z" fill="#4caf50"/>
<text x="1424.6" y="243.9" fill="#fff" textLength="47.7" lengthAdjust="spacingAndGlyphs">0.66865</text>
<rect x="1419.5" y="30.5" width="93" height="26.5" rx="4" fill="#fff" stroke="#ececee" stroke-width="1"/>
<text x="1428.3" y="47.9" fill="#111" textLength="24.2" lengthAdjust="spacingAndGlyphs">USD</text>
<text x="1424.4" y="769.1" fill="#555" textLength="81.7" lengthAdjust="spacingAndGlyphs">60,000.00000</text>
<text x="1424.4" y="804.9" fill="#555" textLength="81.7" lengthAdjust="spacingAndGlyphs">40,000.00000</text>
<text x="1424.4" y="841.9" fill="#555" textLength="81.7" lengthAdjust="spacingAndGlyphs">20,000.00000</text>
<text x="1424.4" y="879.7" fill="#555" textLength="47.7" lengthAdjust="spacingAndGlyphs">0.00000</text>
<text x="21.9" y="905.8" fill="#555" text-anchor="middle">11</text>
<text x="76.6" y="905.8" fill="#555" text-anchor="middle">13</text>
<text x="130.9" y="905.8" fill="#555" text-anchor="middle">15</text>
<text x="185.7" y="905.8" fill="#555" text-anchor="middle">19</text>
<text x="240.4" y="905.8" fill="#555" text-anchor="middle">21</text>
<text x="295.2" y="905.8" fill="#555" text-anchor="middle">25</text>
<text x="349.4" y="905.8" fill="#555" text-anchor="middle">27</text>
<text x="407.5" y="905.8" fill="#555" text-anchor="middle">Dec</text>
<text x="484.8" y="905.8" fill="#555" text-anchor="middle">4</text>
<text x="539" y="905.8" fill="#555" text-anchor="middle">6</text>
<text x="593.8" y="905.8" fill="#555" text-anchor="middle">10</text>
<text x="648.6" y="905.8" fill="#555" text-anchor="middle">12</text>
<text x="702.8" y="905.8" fill="#555" text-anchor="middle">16</text>
<text x="758.2" y="905.8" fill="#555" text-anchor="middle">18</text>
<text x="812" y="905.8" fill="#555" text-anchor="middle">20</text>
<text x="866.3" y="905.8" fill="#555" text-anchor="middle">24</text>
<text x="921" y="905.8" fill="#555" text-anchor="middle">27</text>
<text x="1056.9" y="905.8" fill="#555" text-anchor="middle">6</text>
<text x="1111.1" y="905.8" fill="#555" text-anchor="middle">8</text>
<text x="1165.9" y="905.8" fill="#555" text-anchor="middle">10</text>
<text x="1220.7" y="905.8" fill="#555" text-anchor="middle">14</text>
<text x="1274.9" y="905.8" fill="#555" text-anchor="middle">16</text>
<text x="1329.7" y="905.8" fill="#555" text-anchor="middle">20</text>
<text x="1384.4" y="905.8" fill="#555" text-anchor="middle">22</text>
<text x="1003.1" y="905.8" fill="#434651" font-weight="bold" text-anchor="middle">2026</text>
<path d="M12 937h11.9v14.9h-5.8v-8.9h-6.1z M34.2 937h7.6l-5.9 14.9h-6.7z" fill="#0c0c0c"/><circle cx="29" cy="939.9" r="2.9" fill="#0c0c0c"/>
<text x="49.1" y="952" font-size="20" font-weight="bold" fill="#0c0c0c" textLength="120.9" lengthAdjust="spacingAndGlyphs">TradingView</text>
</svg>
</body></html>
